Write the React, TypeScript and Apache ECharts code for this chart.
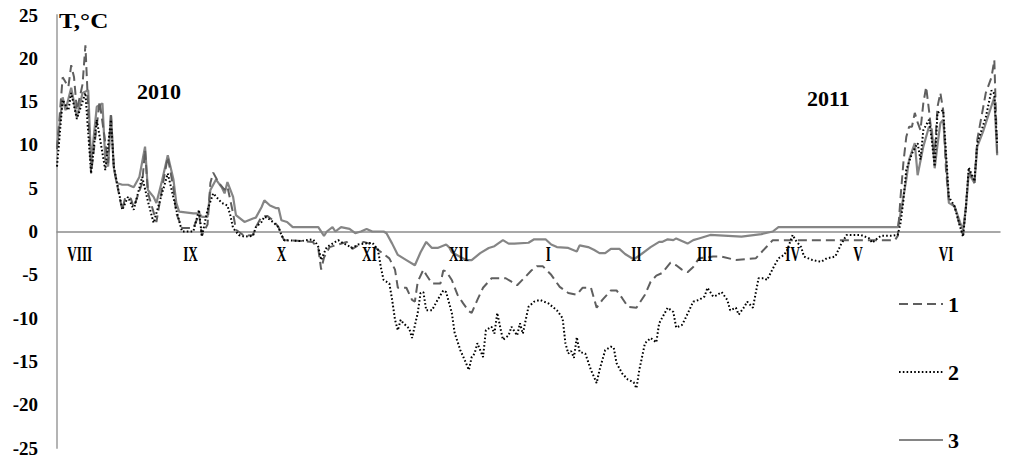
import React, { useEffect, useRef } from "react";
import * as echarts from "echarts";

// Day index counted from the start of the record (early August 2010)
const days1 = [0,2,4,5,6,7,9,10,12,15,18,19,20,22,23,24,26,27,30,31,32,35,37,39,41,42,44,48,50,51,53,54,55,57,59,60,62,63,66,69,70,72,74,76,78,79,80,86,90,92,93,94,96,99,102,104,108,110,113,117,119,120,123,125,126,127,129,130,132,135,136,137,139,141,143,145,146,148,150,153,158,160,162,165,167,169,171,174,177,180,183,185,188,190,192,195,197,199,201,204,207,209,211,213,216,218,220,222,224,226,231,234,239,246,250,252,295,296,297,298,299,300,301,302,303,304,305,306,307,308,309,310,311,312,313,314,316,318,319,320,321,323,324,327,329,330,331];
const temp1 = [9.5,17.8,16.7,19.2,17.8,14,17,21.5,6.7,15,7.9,13.7,7.4,4,2.5,3.9,3.8,2.8,5.6,9.4,4.5,1.1,5,8.6,5,2.1,0.4,0.4,2,-0.4,0.8,5.6,6.8,5.6,4.8,5.2,2.1,0.2,-0.5,-0.4,0.5,1.7,1.8,1.3,0.5,-0.4,-1,-1.1,-1.2,-2,-4.4,-3,-1.8,-1.5,-1.2,-2,-1.2,-1.4,-2.1,-3.1,-4.4,-6.5,-6.5,-7.9,-8.1,-5.8,-4.4,-5,-6,-6,-4.5,-4.6,-5.6,-7.3,-8.3,-9.2,-9.4,-7.9,-6.5,-5.4,-5.4,-5.8,-6.2,-5.2,-4.5,-4,-4,-5,-6.4,-7.1,-7.3,-6.5,-6.5,-8.8,-7.9,-6.8,-6.8,-7.7,-8.7,-8.8,-7.3,-5.8,-5.1,-4.8,-3.6,-3.9,-4.4,-4.7,-4.1,-3.1,-2.9,-2.9,-3.3,-3.1,-1.7,-1,-1,-0.5,4,8,10.9,12.1,12.1,13.7,12.6,11.7,14.8,16.7,14,11,9,14.4,16,14,7,3.6,2.9,0.5,-0.4,2.8,7.1,5.6,10.6,16,17.8,19.8,9];

const days2 = [0,2,4,5,7,10,12,14,17,19,20,23,25,27,30,32,34,39,42,44,48,50,51,53,55,58,60,61,62,64,66,69,70,72,73,74,76,78,79,80,86,90,91,92,93,94,95,97,99,101,104,106,108,111,113,114,115,117,118,119,120,121,122,124,125,127,128,129,130,132,134,136,137,139,140,142,144,145,146,147,148,150,151,153,154,155,156,157,159,160,162,163,164,166,168,170,173,176,178,179,180,181,182,183,184,186,188,190,191,193,195,196,197,199,201,203,204,205,207,209,211,212,213,215,217,218,220,221,224,226,228,229,231,232,234,236,237,239,240,242,243,245,247,249,250,252,254,256,257,259,260,262,263,266,269,271,274,276,278,283,286,287,290,294,296,297,298,299,301,303,304,305,307,308,309,310,311,312,313,314,316,318,319,320,321,323,324,327,329,330,331];
const temp2 = [7.5,15.2,14,16,13,16,6.7,12.9,7.1,12.9,7.5,2.5,4,2.5,6.3,3.5,1,6.7,2.5,0,0,2.5,-0.6,2.5,4.4,3.3,3.0,1.9,0.4,-0.4,-0.6,-0.5,0.5,1.1,1.7,1.6,1.1,0.5,-0.4,-1,-1.1,-0.9,-1.2,-1.8,-3.3,-2.5,-1.8,-1.4,-1,-1.4,-1.9,-1.5,-1.4,-1.3,-2.1,-4.1,-5.6,-6,-7.9,-10.2,-11.4,-10.2,-10.6,-11.2,-12.3,-9.4,-7.1,-7.0,-9.1,-9.1,-7.9,-6.8,-7.0,-9.4,-11.7,-13.7,-15.2,-16,-14.5,-14.1,-12.9,-14.5,-11.4,-11,-11.8,-9.4,-11,-12.5,-12,-11,-12,-10.6,-11.8,-8.7,-8.1,-7.9,-8.3,-9.1,-10,-12.9,-14.1,-13.8,-14.6,-12.2,-13.9,-14.1,-16,-17.5,-16,-13.7,-13.3,-13.4,-15.2,-16.4,-17.1,-17.4,-18.1,-16,-12.9,-12.3,-12.8,-10.6,-10,-8.8,-9.3,-11.1,-10.8,-10.2,-8.1,-7.9,-7.5,-6.5,-7.5,-7.4,-7,-7.9,-9.1,-8.8,-9.6,-8.7,-8.1,-8.8,-5.4,-5.4,-5.6,-4.3,-3.1,-2.7,-2.2,-0.4,-1,-1.8,-2.9,-3.3,-3.5,-3.1,-2.9,-1.5,-0.4,-0.4,-0.8,-1.3,-0.5,-0.5,-0.4,1,3.6,7.1,9,10.2,8.3,11.7,12.9,10.5,7.5,13.7,13.9,14,9,4,2.9,0.5,-0.6,2.8,7.4,5.8,10.2,13.2,16.3,15.9,10];

const days3 = [0,2,3,5,7,9,11,12,14,16,17,18,19,20,21,23,25,27,29,31,32,34,35,37,39,41,42,43,48,50,51,53,54,56,58,59,60,62,63,66,69,70,72,73,75,77,78,79,81,83,92,94,95,97,98,100,103,105,107,109,111,115,116,118,120,123,126,128,130,132,134,137,138,139,144,146,149,152,154,157,159,161,166,168,172,174,176,180,183,184,187,189,191,193,195,198,200,203,205,209,212,213,215,217,218,220,222,224,226,230,241,248,252,254,296,297,299,300,302,303,305,307,308,309,310,311,312,313,314,316,318,319,320,321,323,324,326,327,330,331];
const temp3 = [9.8,15.5,14,16.6,13.2,16,16.3,7.9,14.4,14.8,8.3,7.5,13.4,7.4,5.6,5.4,5.4,5.1,6.3,9.8,4.8,4.0,3.3,5.9,8.8,6,3.3,2.3,2.1,2.1,1.7,1.7,4.8,6,5.1,4.4,5.7,4.0,1.9,1.1,1.5,1.6,2.8,3.6,3.0,2.7,2.7,1.3,1.1,0.5,0.5,-0.5,0,0.5,0,0.5,0.3,-0.2,0,0.3,0,0,-0.2,-1.4,-2.7,-3.3,-3.9,-2.4,-1.2,-1.9,-1.9,-1.5,-1.8,-2.4,-3.3,-3.3,-2.5,-1.9,-1.7,-1,-1.4,-1.4,-1.3,-0.9,-0.9,-1.5,-1.8,-1.9,-2.3,-1.6,-1.8,-2.1,-2.5,-2.5,-2.0,-2.0,-2.6,-3.2,-2.8,-1.8,-1.2,-1.2,-0.9,-1.0,-0.8,-1.1,-1.4,-1.0,-0.8,-0.4,-0.6,-0.3,0,0.5,0.5,2.1,6,8.3,10.2,6.5,9.8,12.1,11.8,7.3,10,12.5,12.9,8.3,3.3,2.9,1.0,0.2,2.8,6.7,5.6,9.8,11.5,12.5,15.5,8.8];

const monthNames = ["VIII", "IX", "X", "XI", "XII", "I", "II", "III", "IV", "V", "VI"];
const monthDays = [8, 47, 79, 110, 141.5, 173, 204, 228, 259, 282, 313];
const monthLabelValue = -2.7;

const seriesNames = ["1", "2", "3"];

const zip = (d: number[], t: number[]) => d.map((x, i) => [x, t[i]]);

export default function App() {
  const ref = useRef<HTMLDivElement>(null);
  useEffect(() => {
    if (!ref.current) return;
    const chart = echarts.init(ref.current, null, { renderer: "svg" });
    const serif = '"Liberation Serif", "Times New Roman", serif';
    chart.setOption({
      animation: false,
      backgroundColor: "#ffffff",
      grid: { left: 57, right: 14, top: 15, bottom: 26, containLabel: false },
      xAxis: {
        type: "value",
        min: 0,
        max: 332,
        axisLine: { show: true, onZero: true, lineStyle: { color: "#8c8c8c", width: 1.5 } },
        axisTick: { show: false },
        axisLabel: { show: false },
        splitLine: { show: false },
      },
      yAxis: {
        type: "value",
        min: -25,
        max: 25,
        interval: 5,
        axisLine: { show: true, onZero: false, lineStyle: { color: "#b4b4b4", width: 2 } },
        axisTick: { show: false },
        splitLine: { show: false },
        axisLabel: {
          fontFamily: serif,
          fontWeight: "bold",
          fontSize: 19,
          color: "#000",
          margin: 19,
        },
      },
      legend: {
        orient: "vertical",
        left: 893,
        top: 288,
        itemWidth: 44,
        itemHeight: 22,
        itemGap: 46,
        data: seriesNames,
        itemStyle: { color: "rgba(0,0,0,0)", borderColor: "rgba(0,0,0,0)", borderWidth: 0 },
        textStyle: { fontFamily: serif, fontWeight: "bold", fontSize: 22, color: "#000" },
      },
      graphic: [
        {
          type: "text",
          x: 59,
          y: 10,
          scaleX: 1.14,
          style: { text: "T,°C", font: `bold 22px ${serif}`, fill: "#000" },
        },
        {
          type: "text",
          x: 137,
          y: 82,
          scaleX: 1.1,
          style: { text: "2010", font: `bold 20px ${serif}`, fill: "#000" },
        },
        {
          type: "text",
          x: 807,
          y: 89,
          scaleX: 1.1,
          style: { text: "2011", font: `bold 20px ${serif}`, fill: "#000" },
        },
      ],
      series: [
        {
          name: seriesNames[0],
          type: "line",
          data: zip(days1, temp1),
          symbol: "circle",
          showSymbol: false,
          z: 3,
          lineStyle: { color: "#5f5f5f", width: 2, type: [9, 5] },
          itemStyle: { color: "#5f5f5f" },
        },
        {
          name: seriesNames[1],
          type: "line",
          data: zip(days2, temp2),
          symbol: "circle",
          showSymbol: false,
          z: 4,
          lineStyle: { color: "#000000", width: 2, type: [1.6, 2.2] },
          itemStyle: { color: "#000000" },
        },
        {
          name: seriesNames[2],
          type: "line",
          data: zip(days3, temp3),
          symbol: "circle",
          showSymbol: false,
          z: 2,
          lineStyle: { color: "#858585", width: 2.2 },
          itemStyle: { color: "#858585" },
        },
        {
          name: "months",
          type: "custom",
          silent: true,
          z: 6,
          data: monthDays.map((d) => [d, monthLabelValue]),
          renderItem: (params: any, api: any) => {
            const p = api.coord([api.value(0), api.value(1)]);
            return {
              type: "text",
              x: p[0],
              y: p[1],
              scaleX: 0.66,
              style: {
                text: monthNames[params.dataIndex],
                font: `bold 20px ${serif}`,
                fill: "#000",
                align: "center",
                verticalAlign: "middle",
              },
            };
          },
        },
      ],
    });
    return () => chart.dispose();
  }, []);
  return (
    <div
      ref={ref}
      style={{ position: "fixed", left: 0, top: 0, width: 1014, height: 474, background: "#fff" }}
    />
  );
}
